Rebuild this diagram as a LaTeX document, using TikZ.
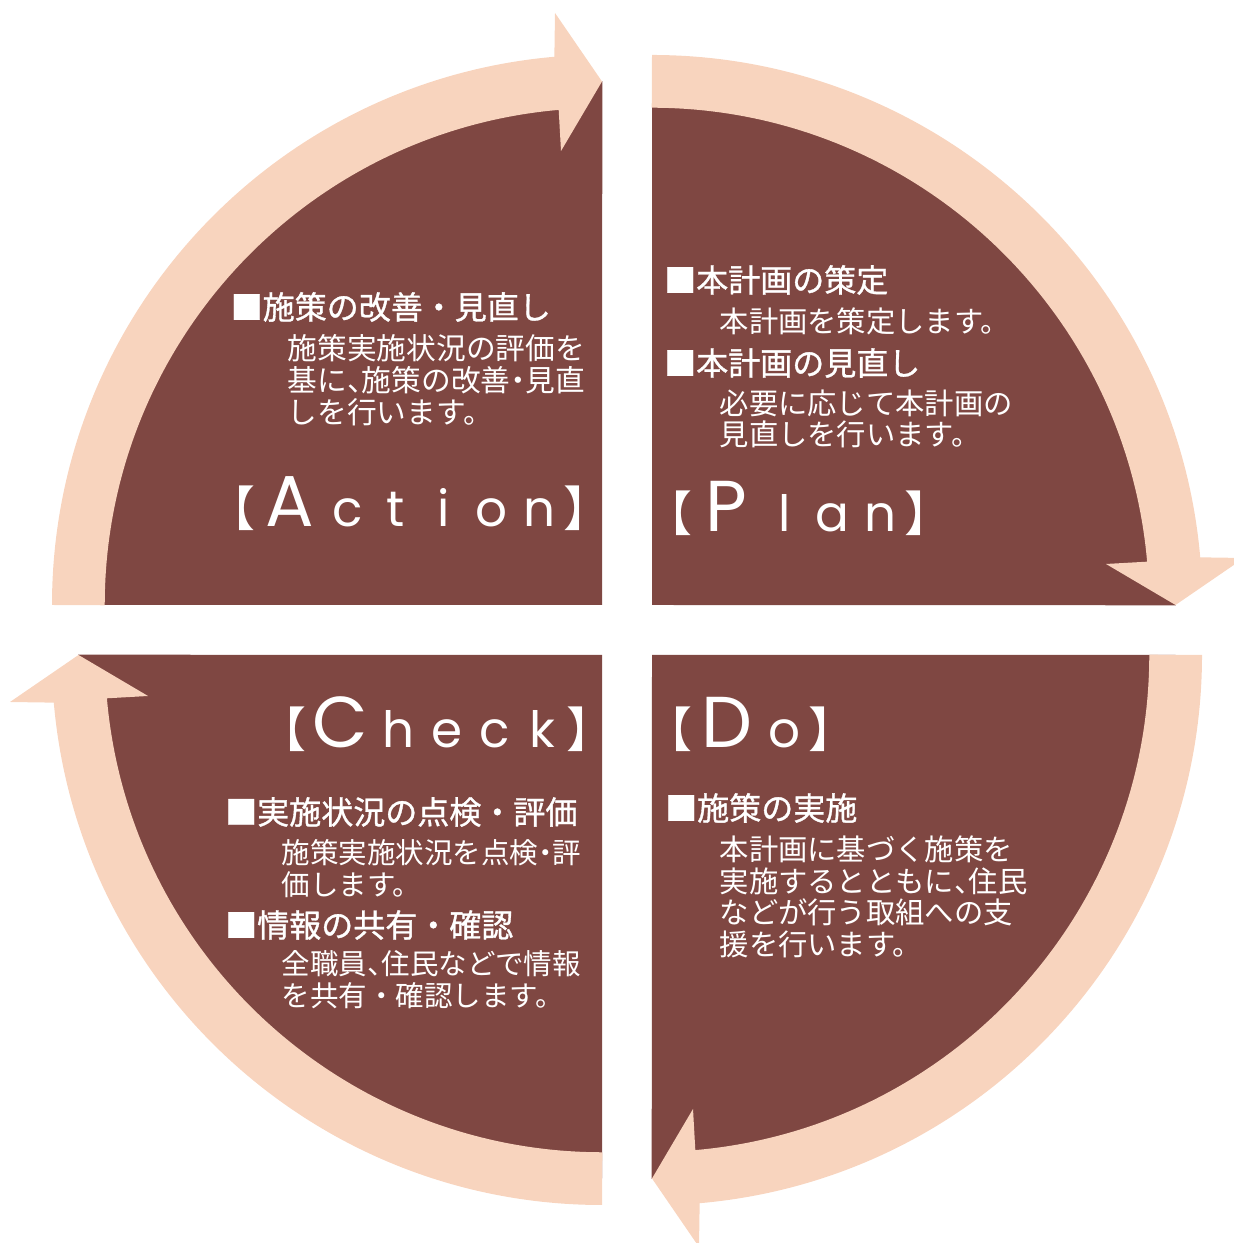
\documentclass[tikz,border=0pt]{standalone}
\usepackage{fontspec}
\usepackage{tikz}
\newfontfamily\cjk{Noto Sans CJK JP}
\newfontfamily\cjkbold[FakeBold=1]{Noto Sans CJK JP}
\newfontfamily\cjkhalf[RawFeature=+halt]{Noto Sans CJK JP}
\newfontfamily\geo{Poppins}
\definecolor{quarterbrown}{RGB}{127,71,66}
\definecolor{ringpeach}{RGB}{248,212,190}
\newcommand\hp[1]{{\cjkhalf #1}} % half-width punctuation
\newcommand\brk[1]{{\cjkhalf\fontsize{0.48cm}{0.5cm}\selectfont #1}}
\newcommand\capbox[1]{\makebox[0.68cm]{\geo\fontsize{0.72cm}{0.8cm}\selectfont #1}}
\newcommand\lowbox[1]{\makebox[0.48cm]{\geo\fontsize{0.5cm}{0.6cm}\selectfont #1}}
\tikzset{
quarter/.style={fill=quarterbrown}, % the brown quarter discs
ring/.style={fill=ringpeach}, % the curved arrows round them
heading/.style={text=white, inner sep=0pt, anchor=west, font=\cjkbold\fontsize{0.32cm}{0.36cm}\selectfont},
bodytext/.style={text=white, inner sep=0pt, anchor=north west, align=left, font=\cjk\fontsize{#1}{0.316cm}\selectfont},
bodytext/.default=0.293cm,
phasename/.style={text=white, inner sep=0pt, anchor=base west}, % Plan, Do, Check, Action
}

\begin{document}
\begin{tikzpicture}[x=0.01cm, y=0.01cm]

    \useasboundingbox (0,0) rectangle (1234,1243);
    \clip (0,0) rectangle (1234,1243);

    % one quarter, turned round for Action, Plan, Do and Check
    \foreach \cx/\cy/\turn in {602/638/0, 652/638/-90, 652/588/-180, 602/588/-270}{
        \begin{scope}[shift={(\cx,\cy)}, rotate=\turn]
            \fill[quarter] (0,0) -- (180:523.5) arc[start angle=180, end angle=90, radius=5.235cm] -- cycle;
            \fill[ring] (180:550) arc[start angle=180, end angle=95, radius=5.5cm]
                -- (-47,592) -- (0,523.5) -- (-41,454)
                -- (95:497) arc[start angle=95, end angle=180, radius=4.97cm] -- cycle;
        \end{scope}
    }

    % Action
    \node[heading] (ahead) at (230,936) {■施策の改善・見直し};
    \node[bodytext=0.297cm] (abody) at (287,909) {施策実施状況の評価を\\基に\hp{、}施策の改善\hp{・}見直\\しを行います。};
    \node[phasename] (action) at (231,716) {\brk{【}\capbox{A}\lowbox{c}\lowbox{t}\lowbox{i}\lowbox{o}\lowbox{n}\brk{】}};

    % Plan
    \node[heading] (phead1) at (663.5,963) {■本計画の策定};
    \node[bodytext] (pbody1) at (719,936) {本計画を策定します。};
    \node[heading] (phead2) at (663.5,880) {■本計画の見直し};
    \node[bodytext] (pbody2) at (719,854) {必要に応じて本計画の\\見直しを行います。};
    \node[phasename] (plan) at (668,711) {\brk{【}\capbox{P}\lowbox{l}\lowbox{a}\lowbox{n}\brk{】}};

    % Do
    \node[heading] (dhead) at (664.5,435) {■施策の実施};
    \node[bodytext] (dbody) at (719,408) {本計画に基づく施策を\\実施するとともに\hp{、}住民\\などが行う取組への支\\援を行います。};
    \node[phasename] (do) at (668,495) {\brk{【}\capbox{D}\lowbox{o}\brk{】}};

    % Check
    \node[heading] (chead1) at (224.5,431) {■実施状況の点検・評価};
    \node[bodytext=0.285cm] (cbody1) at (281,404) {施策実施状況を点検\hp{・}評\\価します。};
    \node[heading] (chead2) at (224.5,318) {■情報の共有・確認};
    \node[bodytext=0.285cm] (cbody2) at (281,293) {全職員\hp{、}住民などで情報\\を共有・確認します。};
    \node[phasename] (check) at (282,495) {\brk{【}\capbox{C}\lowbox{h}\lowbox{e}\lowbox{c}\lowbox{k}\brk{】}};

\end{tikzpicture}
\end{document}
